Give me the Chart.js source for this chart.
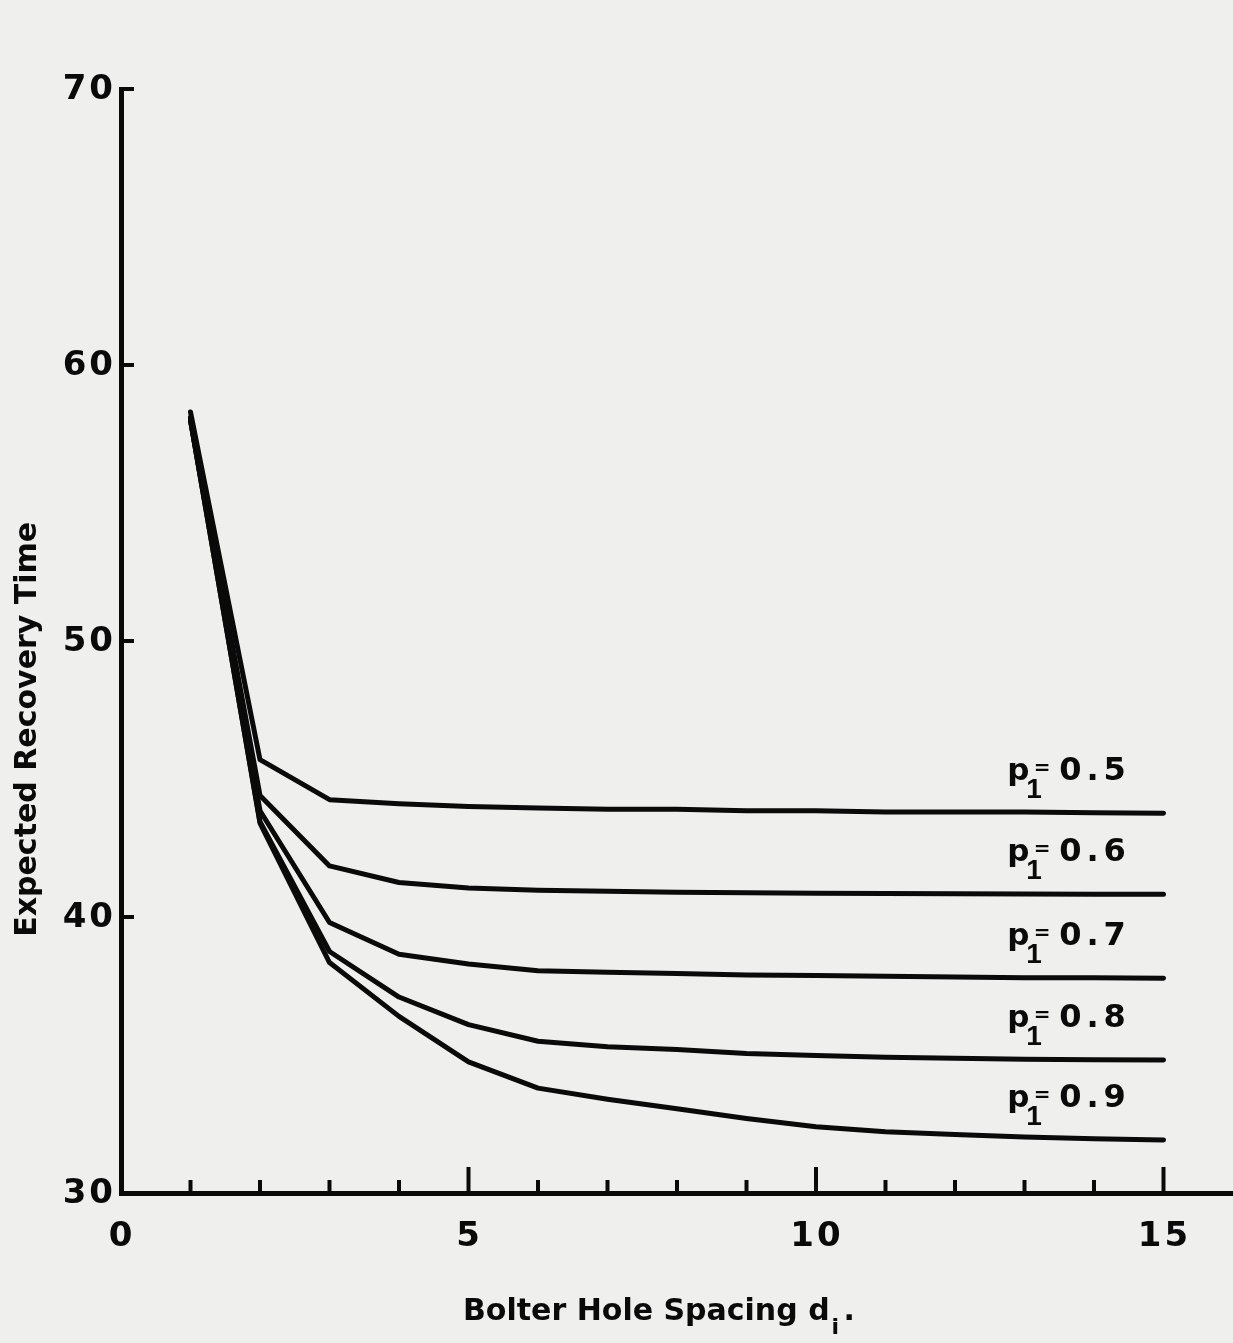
<!DOCTYPE html>
<html>
<head>
<meta charset="utf-8">
<script src="https://cdn.jsdelivr.net/npm/chart.js@4.4.1/dist/chart.umd.min.js"></script>
<style>
  html, body { margin: 0; padding: 0; background: #efefed; }
  #wrap { position: relative; width: 1233px; height: 1343px; }
</style>
</head>
<body>
<div id="wrap"><canvas id="c"></canvas></div>
<script>
// ---- data ----
const spacing = [1, 2, 3, 4, 5, 6, 7, 8, 9, 10, 11, 12, 13, 14, 15];
const p05 = [58.3, 45.7, 44.25, 44.1, 44.0, 43.95, 43.9, 43.9, 43.85, 43.85, 43.8, 43.8, 43.8, 43.78, 43.76];
const p06 = [58.1, 44.4, 41.85, 41.25, 41.05, 40.97, 40.93, 40.9, 40.88, 40.86, 40.85, 40.84, 40.83, 40.82, 40.82];
const p07 = [58.0, 43.85, 39.8, 38.65, 38.3, 38.05, 38.0, 37.95, 37.9, 37.88, 37.85, 37.83, 37.8, 37.8, 37.78];
const p08 = [58.0, 43.45, 38.75, 37.1, 36.1, 35.5, 35.3, 35.2, 35.05, 34.98, 34.92, 34.88, 34.85, 34.83, 34.82];
const p09 = [58.0, 43.4, 38.35, 36.4, 34.75, 33.8, 33.4, 33.05, 32.7, 32.4, 32.22, 32.12, 32.03, 31.97, 31.92];
const seriesLabels = ['0.5', '0.6', '0.7', '0.8', '0.9'];
const xTickLabels = [0, 5, 10, 15];
const yTickLabels = [30, 40, 50, 60, 70];
const xMinorTicks = [1, 2, 3, 4, 5, 6, 7, 8, 9, 10, 11, 12, 13, 14, 15];
const xTitle = 'Bolter Hole Spacing d';
const yTitle = 'Expected Recovery Time';

const FONT = '"DejaVu Sans", "Liberation Sans", sans-serif';
const INK = '#0a0a0a';

const allSeries = [p05, p06, p07, p08, p09];
const datasets = allSeries.map((vals, i) => ({
  label: 'p1 = ' + seriesLabels[i],
  data: spacing.map((x, j) => ({ x: x, y: vals[j] })),
  borderColor: INK,
  borderWidth: 5,
  pointRadius: 0,
  tension: 0,
  fill: false,
  borderJoinStyle: 'round',
  borderCapStyle: 'round'
}));

const decor = {
  id: 'decor',
  afterDraw(chart) {
    const ctx = chart.ctx;
    const xs = chart.scales.x, ys = chart.scales.y;
    const x0 = xs.getPixelForValue(0);
    const yb = ys.getPixelForValue(30);
    ctx.save();
    ctx.strokeStyle = INK;
    ctx.lineWidth = 4;
    ctx.lineCap = 'butt';
    // inward y ticks
    yTickLabels.forEach(v => {
      if (v === 30) return;
      const y = ys.getPixelForValue(v);
      ctx.beginPath();
      ctx.moveTo(x0, y);
      ctx.lineTo(x0 + 13, y);
      ctx.stroke();
    });
    // upward x ticks
    xMinorTicks.forEach(v => {
      const x = xs.getPixelForValue(v);
      const len = (v % 5 === 0) ? 26 : 13;
      ctx.beginPath();
      ctx.moveTo(x, yb);
      ctx.lineTo(x, yb - len);
      ctx.stroke();
    });

    ctx.fillStyle = INK;
    // tick labels
    ctx.font = 'bold 34px ' + FONT;
    ctx.letterSpacing = '3px';
    ctx.textAlign = 'right';
    ctx.textBaseline = 'middle';
    ys.ticks.forEach(t => {
      ctx.fillText(String(t.value), x0 - 5, ys.getPixelForValue(t.value) + 1);
    });
    ctx.textAlign = 'center';
    ctx.textBaseline = 'top';
    xs.ticks.forEach(t => {
      ctx.fillText(String(t.value), xs.getPixelForValue(t.value) + 1, yb + 27);
    });
    ctx.letterSpacing = '0px';

    // y axis title
    ctx.save();
    ctx.translate(28, ys.getPixelForValue(46.8));
    ctx.rotate(-Math.PI / 2);
    ctx.font = 'bold 30px ' + FONT;
    ctx.textAlign = 'center';
    ctx.textBaseline = 'middle';
    ctx.fillText(yTitle, 0, 0);
    ctx.restore();

    // x axis title with subscript
    ctx.font = 'bold 30px ' + FONT;
    ctx.textAlign = 'left';
    ctx.textBaseline = 'alphabetic';
    const tx = 463, tyb = 1320;
    ctx.fillText(xTitle, tx, tyb);
    const w = ctx.measureText(xTitle).width;
    ctx.font = 'bold 22px ' + FONT;
    ctx.fillText('i', tx + w + 2, tyb + 14);
    ctx.font = 'bold 30px ' + FONT;
    ctx.fillText('.', tx + w + 14, tyb);

    // series labels
    allSeries.forEach((vals, i) => {
      const yl = ys.getPixelForValue(vals[vals.length - 1]) - 33;
      const xl = xs.getPixelForValue(12.75);
      ctx.textAlign = 'left';
      ctx.font = 'bold 31px ' + FONT;
      ctx.fillText('p', xl, yl);
      ctx.textAlign = 'center';
      ctx.font = 'bold 28px "Liberation Sans", Arial, sans-serif';
      ctx.fillText('1', xl + 27, yl + 18);
      ctx.font = 'bold 20px ' + FONT;
      ctx.fillText('=', xl + 35, yl - 6);
      ctx.textAlign = 'left';
      ctx.font = 'bold 32px ' + FONT;
      ctx.letterSpacing = '5px';
      ctx.fillText(seriesLabels[i], xl + 52, yl);
      ctx.letterSpacing = '0px';
    });
    ctx.restore();
  }
};

new Chart(document.getElementById('c'), {
  type: 'line',
  data: { datasets },
  options: {
    responsive: true,
    maintainAspectRatio: false,
    animation: false,
    events: [],
    layout: { padding: { top: 89, right: 0, left: 0, bottom: 0 } },
    plugins: { legend: { display: false }, tooltip: { enabled: false } },
    scales: {
      x: {
        type: 'linear', min: 0, max: 16,
        afterBuildTicks: s => { s.ticks = xTickLabels.map(v => ({ value: v })); },
        afterFit: s => { s.height = 150; },
        grid: { display: false, drawTicks: false },
        border: { display: true, color: INK, width: 5 },
        ticks: { display: false }
      },
      y: {
        type: 'linear', min: 30, max: 70,
        afterBuildTicks: s => { s.ticks = yTickLabels.map(v => ({ value: v })); },
        afterFit: s => { s.width = 121; },
        grid: { display: false, drawTicks: false },
        border: { display: true, color: INK, width: 5 },
        ticks: { display: false }
      }
    }
  },
  plugins: [decor]
});
</script>
</body>
</html>
